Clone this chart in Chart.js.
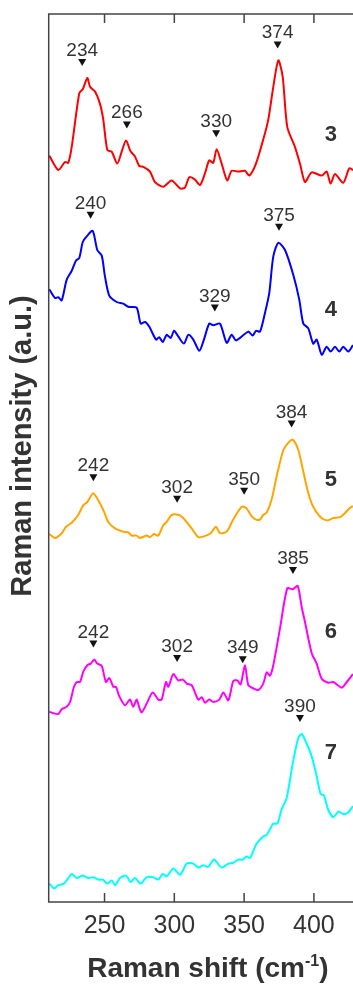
<!DOCTYPE html>
<html>
<head>
<meta charset="utf-8">
<script src="https://cdn.jsdelivr.net/npm/chart.js@4.4.1/dist/chart.umd.min.js"></script>
<style>
  html, body { margin: 0; padding: 0; background: #ffffff; }
  canvas { display: block; }
</style>
</head>
<body>
<canvas id="raman" width="353" height="985"></canvas>
<script>
// Stacked Raman spectra for samples 3-7
// Points are [Raman shift (cm-1), intensity (a.u., stacking offset included)]

const spectrum3 = [
    [210.4, 93.3], [216.9, 91.5], [221.7, 92.5], [224.0, 92.4], [226.5, 94.4], [231.9, 101.1],
    [234.4, 101.6], [237.7, 103.0], [239.6, 101.9], [243.2, 101.3], [246.7, 99.8], [249.1, 97.8],
    [252.0, 94.0], [255.1, 93.8], [259.1, 92.3], [262.3, 93.8], [265.4, 95.2], [268.7, 93.8],
    [271.8, 93.2], [274.9, 92.0], [277.8, 91.9], [282.6, 91.3], [286.1, 90.0], [292.1, 89.4],
    [298.1, 90.2], [304.1, 89.2], [307.6, 89.3], [310.7, 90.6], [314.8, 90.3], [318.4, 89.6],
    [322.0, 91.1], [325.0, 92.7], [327.9, 92.4], [330.3, 94.1], [333.9, 92.3], [337.9, 90.2],
    [341.1, 91.4], [345.8, 91.3], [350.6, 91.4], [353.7, 90.8], [358.5, 92.3], [363.7, 95.3],
    [367.3, 97.8], [370.9, 101.9], [374.5, 105.2], [377.6, 103.2], [380.9, 96.9], [386.4, 94.4],
    [390.0, 92.3], [393.6, 90.0], [398.4, 91.2], [405.6, 90.8], [409.1, 91.3], [412.0, 89.8],
    [415.1, 91.0], [421.0, 89.9], [425.3, 91.7], [428.0, 91.5]
];

const spectrum4 = [
    [210.4, 76.6], [214.5, 75.5], [216.9, 75.6], [219.3, 75.2], [222.9, 77.8], [226.5, 78.9],
    [229.6, 80.2], [231.9, 80.5], [234.4, 82.5], [237.2, 83.2], [241.5, 83.9], [244.8, 81.5],
    [248.0, 80.8], [250.3, 78.2], [253.4, 75.8], [258.7, 75.0], [263.4, 74.8], [267.0, 74.4],
    [273.0, 74.3], [275.9, 72.3], [279.0, 72.5], [282.1, 71.9], [286.9, 70.3], [289.2, 70.6],
    [291.7, 70.0], [294.5, 70.9], [297.4, 70.5], [299.8, 71.4], [302.8, 70.7], [306.9, 69.8],
    [310.0, 70.9], [313.6, 70.3], [317.9, 68.9], [321.2, 70.3], [325.0, 72.3], [327.9, 72.1],
    [332.7, 72.3], [337.5, 69.9], [341.1, 70.9], [344.2, 70.2], [353.0, 71.3], [356.1, 70.8],
    [358.5, 71.4], [361.4, 71.3], [364.9, 73.6], [368.0, 76.1], [370.9, 80.7], [374.5, 82.4],
    [379.3, 81.5], [385.2, 78.4], [389.5, 75.3], [392.4, 72.3], [396.0, 71.7], [399.5, 69.8],
    [402.0, 70.3], [405.6, 68.4], [409.1, 69.4], [412.0, 68.8], [415.1, 69.4], [418.2, 68.8],
    [421.0, 69.4], [424.6, 68.8], [428.0, 69.6]
];

const spectrum5 = [
    [210.4, 46.0], [214.5, 45.5], [219.3, 46.1], [222.4, 46.9], [226.5, 47.4], [231.2, 48.4],
    [234.8, 49.6], [237.7, 50.0], [241.9, 51.1], [246.2, 50.0], [249.6, 48.8], [252.7, 47.5],
    [257.5, 46.7], [263.4, 46.3], [267.0, 46.2], [269.5, 45.8], [273.0, 45.8], [275.4, 45.5],
    [280.2, 45.8], [282.6, 45.6], [285.4, 46.0], [288.5, 45.8], [292.1, 47.1], [294.5, 47.5],
    [298.1, 48.4], [302.8, 48.4], [306.4, 48.0], [312.4, 46.7], [317.2, 45.6], [321.2, 45.7],
    [326.0, 46.1], [329.8, 46.9], [332.7, 46.1], [337.5, 46.3], [342.2, 47.8], [348.3, 49.4],
    [351.8, 49.2], [355.4, 48.2], [358.5, 47.8], [361.4, 47.8], [363.7, 48.4], [366.2, 48.7],
    [369.7, 50.3], [373.3, 53.2], [378.1, 56.5], [381.6, 57.4], [384.8, 57.8], [388.8, 56.5],
    [392.4, 53.8], [396.0, 51.1], [399.5, 49.4], [404.8, 48.1], [409.6, 47.7], [413.9, 48.0],
    [418.7, 48.1], [422.2, 48.6], [425.3, 49.2], [428.0, 49.5]
];

const spectrum6 = [
    [210.4, 23.8], [213.3, 23.6], [216.9, 23.5], [219.3, 24.1], [222.9, 24.4], [225.3, 25.0],
    [228.1, 26.9], [230.1, 27.5], [232.4, 27.5], [234.8, 28.8], [237.7, 29.6], [240.1, 29.8],
    [242.7, 30.3], [244.8, 29.8], [248.0, 29.5], [251.0, 27.5], [253.4, 28.0], [256.3, 26.9],
    [258.2, 26.9], [260.6, 25.7], [264.7, 24.6], [268.2, 25.3], [270.6, 24.4], [273.0, 25.3],
    [274.9, 24.3], [276.6, 23.7], [280.2, 24.8], [284.5, 26.2], [288.5, 25.3], [290.9, 25.3],
    [294.0, 27.5], [295.7, 26.9], [299.3, 28.5], [302.8, 27.7], [306.0, 27.8], [308.9, 27.3],
    [312.4, 27.1], [317.2, 25.3], [319.6, 25.6], [322.0, 24.9], [325.0, 25.3], [327.9, 25.0],
    [332.2, 25.3], [335.1, 26.2], [338.7, 25.2], [342.2, 27.6], [345.1, 27.7], [347.5, 27.2],
    [350.6, 29.6], [353.0, 27.1], [356.6, 26.7], [360.1, 26.5], [363.7, 27.3], [366.2, 28.7],
    [368.5, 28.3], [370.9, 29.6], [375.7, 34.2], [380.9, 39.2], [384.8, 39.1], [388.4, 39.5],
    [391.2, 36.9], [393.6, 35.0], [398.4, 31.1], [402.0, 29.8], [405.6, 27.9], [410.3, 27.4],
    [413.9, 27.5], [419.9, 26.8], [423.5, 27.5], [428.0, 28.5]
];

const spectrum7 = [
    [210.4, 2.3], [213.8, 1.7], [216.9, 2.1], [221.0, 2.3], [223.3, 2.8], [226.5, 3.5],
    [230.1, 3.0], [234.4, 3.3], [238.4, 3.0], [241.9, 3.1], [245.5, 2.8], [248.7, 2.8],
    [252.0, 2.3], [255.1, 2.7], [257.5, 2.1], [261.1, 3.0], [265.4, 3.3], [268.7, 2.5],
    [271.8, 3.0], [275.9, 2.3], [280.2, 3.1], [284.9, 3.1], [288.5, 2.8], [291.7, 3.5],
    [294.5, 3.2], [299.3, 4.2], [304.1, 3.4], [308.9, 4.8], [313.6, 4.8], [317.2, 4.3],
    [320.7, 4.6], [324.3, 4.4], [328.4, 5.3], [333.9, 4.3], [338.7, 4.8], [342.2, 4.9],
    [345.8, 5.3], [349.0, 5.3], [351.8, 5.7], [354.2, 5.5], [359.0, 7.3], [363.7, 8.2],
    [366.2, 8.4], [370.9, 9.8], [373.8, 9.8], [376.9, 11.6], [380.5, 13.0], [384.8, 17.3],
    [388.8, 20.5], [391.2, 21.0], [394.3, 20.0], [398.4, 18.2], [402.0, 15.7], [404.8, 13.5],
    [407.2, 13.3], [410.3, 11.5], [413.9, 10.6], [417.5, 11.3], [421.0, 11.0], [424.6, 11.2],
    [428.0, 12.0]
];

// Sample numbers and the peak positions marked on each spectrum (cm-1)
const sampleNames = ['3', '4', '5', '6', '7'];
const peaks3 = [234, 266, 330, 374];
const peaks4 = [240, 329, 375];
const peaks5 = [242, 302, 350, 384];
const peaks6 = [242, 302, 349, 385];
const peaks7 = [390];

const xTickValues = [250, 300, 350, 400];
const shiftRange = [210, 428];
const intensityRange = [0, 111];

const spectra = [spectrum3, spectrum4, spectrum5, spectrum6, spectrum7];
const peakLists = [peaks3, peaks4, peaks5, peaks6, peaks7];
const lineColors = ['#ff0000', '#0000ff', '#ffa500', '#ff00ff', '#00ffff'];

// where each sample number sits, in axis units
const nameAnchors = [
    { x: 412.2, y: 95.9 },
    { x: 412.2, y: 74.0 },
    { x: 412.2, y: 52.8 },
    { x: 412.2, y: 33.8 },
    { x: 412.2, y: 18.6 }
];

const FONT = '"Liberation Sans", Arial, Helvetica, sans-serif';
const INK = '#333333';
const FRAME = '#444444';

// pixel gap between a peak top and its marker; the sharp 349 peak sits closer
const markerGap = 12;
const markerGapOverride = { '3:349': 2 };

// highest point of a spectrum near a given shift
function peakTop(points, shift) {
    let best = -Infinity;
    points.forEach(p => {
        if (Math.abs(p[0] - shift) <= 5 && p[1] > best) best = p[1];
    });
    return best;
}

const spectraDecor = {
    id: 'spectraDecor',
    afterDatasetsDraw(chart) {
        const { ctx, chartArea: area } = chart;
        const x = chart.scales.x;
        const y = chart.scales.y;
        ctx.save();

        // axes box: left, top and bottom edges
        ctx.strokeStyle = FRAME;
        ctx.lineWidth = 1.5;
        ctx.beginPath();
        ctx.moveTo(area.right, area.top);
        ctx.lineTo(area.left, area.top);
        ctx.lineTo(area.left, area.bottom);
        ctx.lineTo(area.right, area.bottom);
        // ticks point inwards on top and bottom
        xTickValues.forEach(v => {
            const px = x.getPixelForValue(v);
            ctx.moveTo(px, area.top);
            ctx.lineTo(px, area.top + 9);
            ctx.moveTo(px, area.bottom);
            ctx.lineTo(px, area.bottom - 9);
        });
        ctx.stroke();

        // peak markers with their positions
        ctx.textAlign = 'center';
        ctx.textBaseline = 'alphabetic';
        ctx.font = '19px ' + FONT;
        peakLists.forEach((peaks, i) => {
            peaks.forEach(shift => {
                const gap = markerGapOverride[i + ':' + shift] ?? markerGap;
                const px = x.getPixelForValue(shift);
                const tip = y.getPixelForValue(peakTop(spectra[i], shift)) - gap;
                ctx.fillStyle = '#111111';
                ctx.beginPath();
                ctx.moveTo(px, tip);
                ctx.lineTo(px - 4, tip - 7);
                ctx.lineTo(px + 4, tip - 7);
                ctx.closePath();
                ctx.fill();
                ctx.fillStyle = INK;
                ctx.fillText(String(shift), px, tip - 10);
            });
        });

        // sample numbers
        ctx.font = 'bold 22px ' + FONT;
        ctx.fillStyle = INK;
        ctx.textBaseline = 'middle';
        sampleNames.forEach((name, i) => {
            const a = nameAnchors[i];
            ctx.fillText(name, x.getPixelForValue(a.x), y.getPixelForValue(a.y));
        });

        // y axis title
        ctx.save();
        ctx.translate(area.left - 26, (area.top + area.bottom) / 2 - 12);
        ctx.rotate(-Math.PI / 2);
        ctx.font = 'bold 29px ' + FONT;
        ctx.textAlign = 'center';
        ctx.textBaseline = 'middle';
        ctx.fillText('Raman intensity (a.u.)', 0, 0);
        ctx.restore();

        // x axis title with superscript
        const main = 'Raman shift (cm';
        const sup = '-1';
        const close = ')';
        const bigFont = 'bold 28px ' + FONT;
        const supFont = 'bold 16px ' + FONT;
        ctx.font = bigFont;
        const wMain = ctx.measureText(main).width;
        const wClose = ctx.measureText(close).width;
        ctx.font = supFont;
        const wSup = ctx.measureText(sup).width;
        const total = wMain + wSup + wClose;
        const base = chart.height - 8;
        let left = (area.left + area.right) / 2 + 7 - total / 2;
        ctx.textAlign = 'left';
        ctx.textBaseline = 'alphabetic';
        ctx.font = bigFont;
        ctx.fillText(main, left, base);
        ctx.font = supFont;
        ctx.fillText(sup, left + wMain, base - 11);
        ctx.font = bigFont;
        ctx.fillText(close, left + wMain + wSup, base);

        ctx.restore();
    }
};

new Chart(document.getElementById('raman').getContext('2d'), {
    type: 'line',
    data: {
        datasets: spectra.map((points, i) => ({
            label: sampleNames[i],
            data: points,
            borderColor: lineColors[i],
            borderWidth: 2,
            pointRadius: 0,
            tension: 0.25,
            fill: false
        }))
    },
    options: {
        responsive: false,
        animation: false,
        layout: { padding: { top: 14, left: 48.7, right: 0, bottom: 0 } },
        plugins: {
            legend: { display: false },
            tooltip: { enabled: false }
        },
        scales: {
            x: {
                type: 'linear',
                min: shiftRange[0],
                max: shiftRange[1],
                grid: { display: false, drawTicks: false },
                border: { display: false },
                afterBuildTicks: scale => {
                    scale.ticks = xTickValues.map(v => ({ value: v }));
                },
                afterFit: scale => { scale.height = 83; },
                ticks: {
                    autoSkip: false,
                    maxRotation: 0,
                    padding: 9,
                    color: INK,
                    font: { family: FONT, size: 25 }
                }
            },
            y: {
                display: false,
                min: intensityRange[0],
                max: intensityRange[1]
            }
        }
    },
    plugins: [spectraDecor]
});
</script>
</body>
</html>
